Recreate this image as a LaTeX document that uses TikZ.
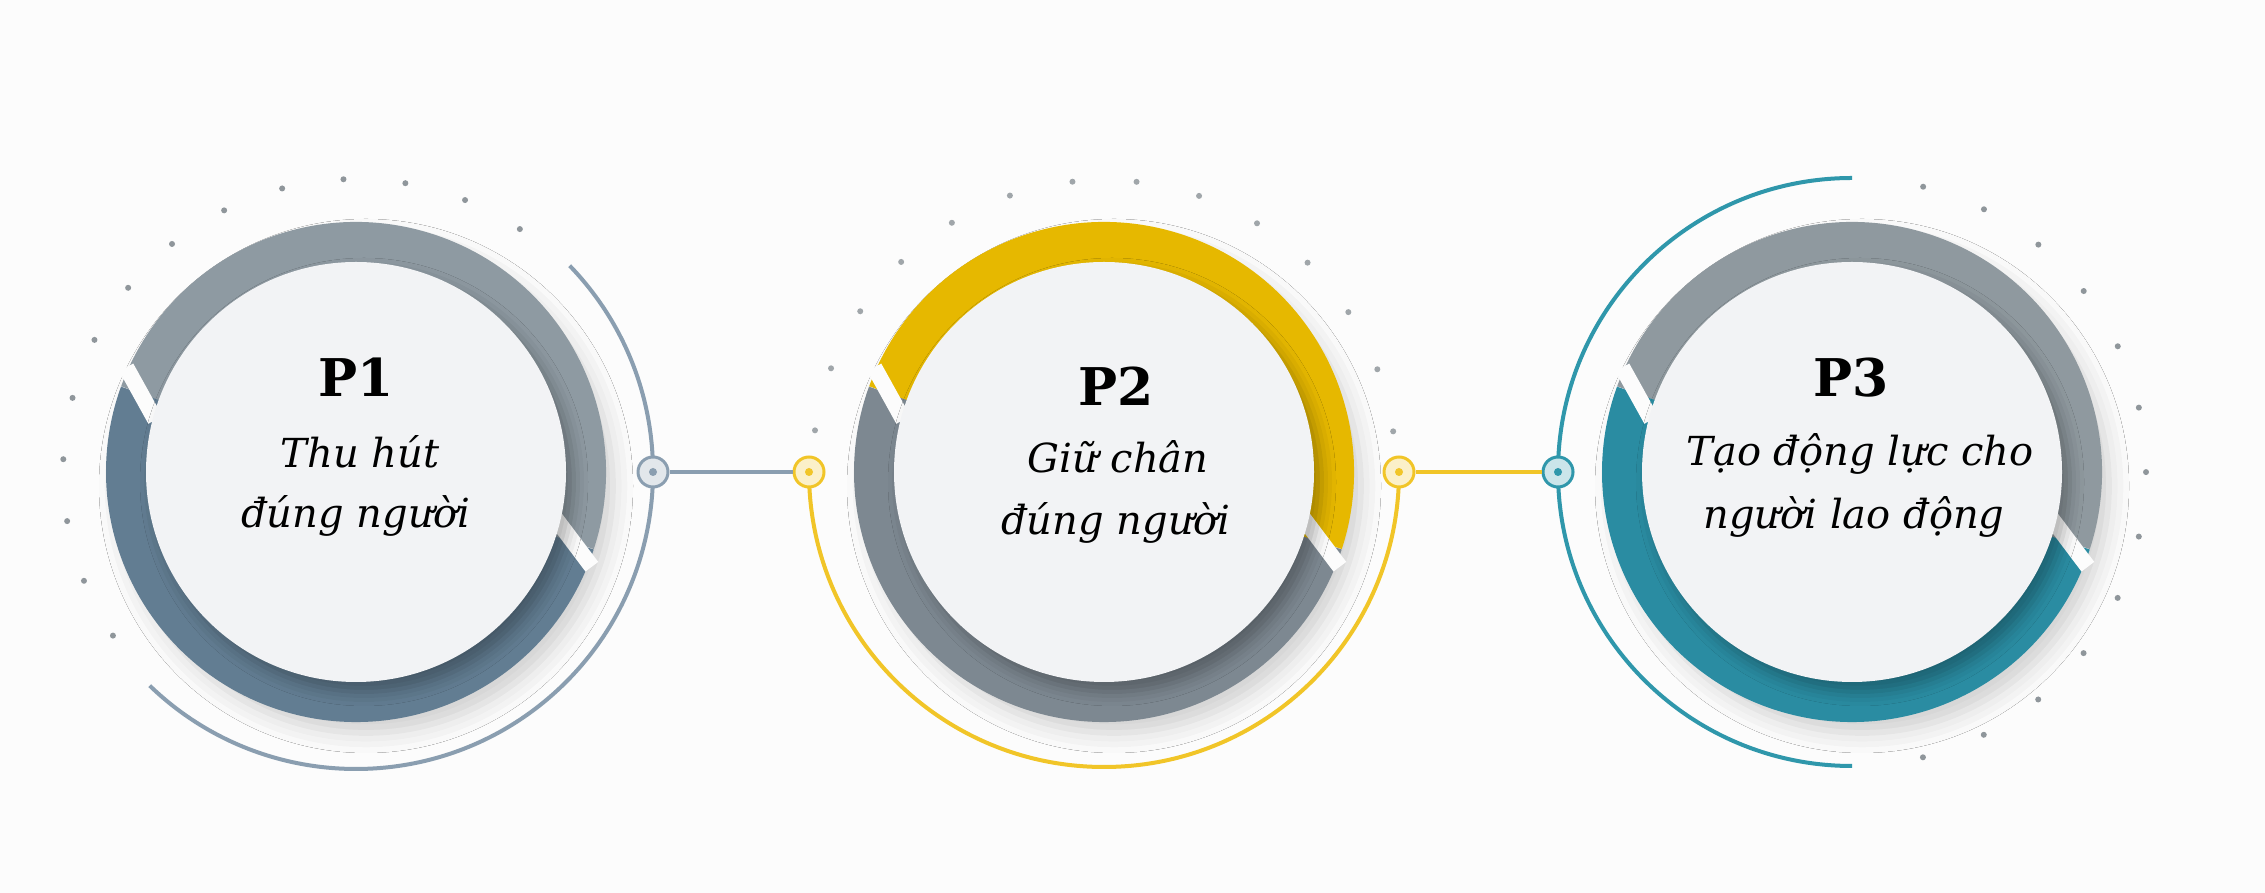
\documentclass[tikz,border=0pt]{standalone}
\usepackage{fontspec}
\setmainfont{DejaVu Serif}
\usetikzlibrary{calc}
\usetikzlibrary{shadows.blur}

\definecolor{bgcol}{HTML}{FCFCFC}
\definecolor{discfill}{HTML}{F2F3F5}
\definecolor{dotgray}{HTML}{8F969B}
\definecolor{pOneUp}{HTML}{8E9AA2}
\definecolor{pOneLow}{HTML}{627D92}
\definecolor{pOneLine}{HTML}{8A9EB0}
\definecolor{pTwoUp}{HTML}{E6B800}
\definecolor{pTwoLow}{HTML}{7D8891}
\definecolor{pTwoLine}{HTML}{F1C528}
\definecolor{pThreeUp}{HTML}{8F999F}
\definecolor{pThreeLow}{HTML}{2A8CA2}
\definecolor{pThreeLine}{HTML}{2F97AB}

\begin{document}
\begin{tikzpicture}[x=0.5pt,y=0.5pt,
    ring/.style={line width=21pt},
    trace/.style={line width=2pt},
    gap/.style={bgcol, line width=8pt},
    halo/.style={circle, fill=bgcol, minimum size=247pt, inner sep=0pt,
        blur shadow={shadow xshift=5pt, shadow yshift=-7pt, shadow blur radius=10pt, shadow opacity=18}},
    disc/.style={circle, fill=discfill, minimum size=210pt, inner sep=0pt,
        blur shadow={shadow xshift=4pt, shadow yshift=-5pt, shadow blur radius=7pt, shadow opacity=30}},
    hub/.style={circle, draw=#1, line width=1.5pt, fill=#1!25!white, minimum size=15pt, inner sep=0pt,
        path picture={\fill[#1] (path picture bounding box.center) circle[radius=2pt];}},
    link/.style={draw=#1, line width=2pt},
    title/.style={font=\bfseries\fontsize{26}{30}\selectfont, anchor=base, inner sep=0pt},
    body/.style={font=\itshape\fontsize{20}{30}\selectfont, anchor=base, inner sep=0pt}]

    % Page
    \useasboundingbox (0,0) rectangle (2265,893);
    \fill[bgcol] (0,0) rectangle (2265,893);

    \coordinate (c1) at (356,421);
    \coordinate (c2) at (1104,421);
    \coordinate (c3) at (1852,421);

    % Dots
    \foreach \a in {0,...,13}
        \fill[dotgray] ($(c1)+({56+\a*12.15}:293)$) circle[radius=3];
    \foreach \a in {0,...,13}
        \fill[dotgray!85] ($(c2)+({8+\a*12.6}:292)$) circle[radius=3];
    \foreach \a in {0,...,12}
        \fill[dotgray] ($(c3)+({76-\a*12.67}:294)$) circle[radius=3];

    % Shadows under the rings
    \node[halo] (h1) at (c1) {};
    \node[halo] (h2) at (c2) {};
    \node[halo] (h3) at (c3) {};

    % Outer arcs
    \draw[trace, pOneLine] ([shift={(44:297)}]c1) arc[start angle=44, end angle=-134, radius=297];
    \draw[trace, pTwoLine] ([shift={(180:295)}]c2) arc[start angle=180, end angle=360, radius=295];
    \draw[trace, pThreeLine] ([shift={(90:294)}]c3) arc[start angle=90, end angle=270, radius=294];

    % Rings
    \draw[ring, pOneUp] ([shift={(160:229)}]c1) arc[start angle=160, end angle=-18, radius=229];
    \draw[ring, pOneLow] ([shift={(-18:229)}]c1) arc[start angle=-18, end angle=-200, radius=229];
    \draw[ring, pTwoUp] ([shift={(160:229)}]c2) arc[start angle=160, end angle=-18, radius=229];
    \draw[ring, pTwoLow] ([shift={(-18:229)}]c2) arc[start angle=-18, end angle=-200, radius=229];
    \draw[ring, pThreeUp] ([shift={(160:229)}]c3) arc[start angle=160, end angle=-18, radius=229];
    \draw[ring, pThreeLow] ([shift={(-18:229)}]c3) arc[start angle=-18, end angle=-200, radius=229];

    % Cuts
    \foreach \c in {c1,c2,c3} {
        \draw[gap] ($(\c)+(160:229)+(119:30)$) -- ($(\c)+(160:229)+(-61:30)$);
        \draw[gap] ($(\c)+(-18:229)+(127:30)$) -- ($(\c)+(-18:229)+(-53:30)$);
    }

    % Discs
    \node[disc] (p1) at (c1) {};
    \node[disc] (p2) at (c2) {};
    \node[disc] (p3) at (c3) {};

    % Texts
    \node[title] (t1) at ($(p1)+(0,75)$) {P1};
    \node[body] (t1a) at ($(p1)+(4,4)$) {Thu hút};
    \node[body] (t1b) at ($(p1)+(0,-56)$) {đúng người};

    \node[title] (t2) at ($(p2)+(12,66)$) {P2};
    \node[body] (t2a) at ($(p2)+(14,-1)$) {Giữ chân};
    \node[body] (t2b) at ($(p2)+(12,-63)$) {đúng người};

    \node[title] (t3) at ($(p3)+(-1,75)$) {P3};
    \node[body] (t3a) at ($(p3)+(8,6)$) {Tạo động lực cho};
    \node[body] (t3b) at ($(p3)+(2,-57)$) {người lao động};

    % Hubs
    \node[hub=pOneLine] (n1) at ($(c1)+(297,0)$) {};
    \node[hub=pTwoLine] (n2a) at ($(c2)+(-295,0)$) {};
    \node[hub=pTwoLine] (n2b) at ($(c2)+(295,0)$) {};
    \node[hub=pThreeLine] (n3) at ($(c3)+(-294,0)$) {};

    \draw[link=pOneLine] (n1) -- (n2a);
    \draw[link=pTwoLine] (n2b) -- (n3);
\end{tikzpicture}
\end{document}
